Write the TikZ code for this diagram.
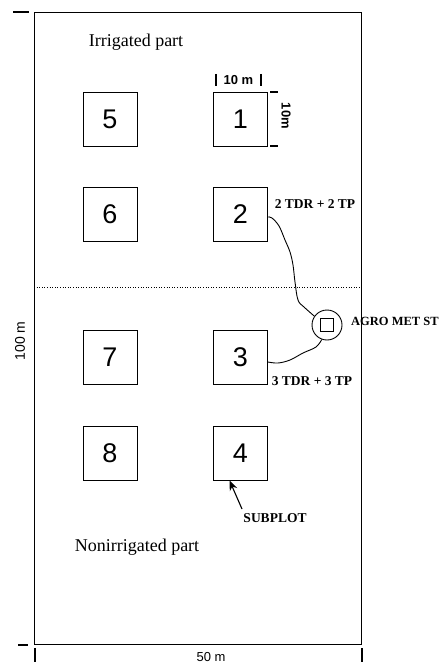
\documentclass[tikz,border=0pt]{standalone}
\usepackage{fontspec}
\setmainfont{Liberation Serif}
\setsansfont{Liberation Sans}
\usetikzlibrary{arrows.meta}
\tikzset{
  plotbox/.style={draw, line width=0.9pt, minimum size=54pt, inner sep=0pt,
    font=\sffamily\fontsize{27}{27}\selectfont},
  partlabel/.style={font=\fontsize{18}{18}\selectfont, inner sep=0pt},
  boldlabel/.style={font=\bfseries\fontsize{13.5}{13.5}\selectfont, inner sep=0pt},
  dimlabel/.style={font=\sffamily\bfseries\fontsize{13}{13}\selectfont, inner sep=0pt},
  tick/.style={line width=2.2pt},
  wire/.style={line width=0.9pt}
}
\begin{document}
\begin{tikzpicture}[x=1pt,y=-1pt]
\useasboundingbox (0,0) rectangle (445,666);
% field
\draw[line width=0.9pt] (34,12.5) rectangle (361.5,644.5);
\draw[dotted, line width=0.6pt] (34,287) -- (361.5,287);
% dimension marks
\draw[tick] (13,12) -- (29,12);
\draw[tick] (18,645) -- (28,645);
\draw[tick] (35,648) -- (35,662);
\draw[tick] (362,648) -- (362,662);
\node[dimlabel, font=\sffamily\fontsize{14}{14}\selectfont] (hundred) at (20,341) [rotate=90] {100 m};
\node[dimlabel, font=\sffamily\fontsize{13}{13}\selectfont] (fifty) at (211,657.5) {50 m};
% labels
\node[partlabel] (irr) at (136,42) {Irrigated part};
\node[partlabel] (nonirr) at (137,547) {Nonirrigated part};
% subplots
\node[plotbox] (b5) at (110,119) {5};
\node[plotbox] (b1) at (240.5,119) {1};
\node[plotbox] (b6) at (110,214) {6};
\node[plotbox] (b2) at (240.5,214) {2};
\node[plotbox] (b7) at (110,357) {7};
\node[plotbox] (b3) at (240.5,357) {3};
\node[plotbox] (b8) at (110,453) {8};
\node[plotbox] (b4) at (240.5,453) {4};
% 10 m marks
\node[dimlabel] (tenh) at (238.5,80) {10 m};
\draw[line width=1.4pt] (216,74) -- (216,86);
\draw[line width=1.4pt] (261,74) -- (261,86);
\draw[tick] (270,92) -- (278,92);
\draw[tick] (270,146) -- (278,146);
\node[dimlabel] (tenv) at (286,116) [rotate=-90] {10m};
% station
\node[draw, circle, line width=0.9pt, minimum size=30pt, inner sep=0pt] (st) at (327,325) {};
\node[draw, line width=0.8pt, minimum size=13pt, inner sep=0pt] (stbox) at (327,325) {};
\node[boldlabel, font=\bfseries\fontsize{12.5}{12.5}\selectfont, anchor=west] (stlabel) at (351,321) {AGRO MET ST};
% wires
\draw[wire] plot[smooth, tension=0.6] coordinates {([yshift=-3pt]b2.east) (272,218) (279,226) (285,240) (290,252) (293,265) (295,282) (298,300) (304,307) (st.145)};
\draw[wire] plot[smooth, tension=0.6] coordinates {([yshift=-5pt]b3.east) (278,363) (290,360) (303,353) (316,347) (st.250)};
\node[boldlabel] (tdr2) at (315,204) {2 TDR + 2 TP};
\node[boldlabel] (tdr3) at (312,381) {3 TDR + 3 TP};
% subplot pointer
\node[boldlabel] (sub) at (275,518) {SUBPLOT};
\coordinate (tail) at (242,509);
\draw[line width=1.1pt, -{Stealth[length=10pt,width=8pt]}] (tail) -- ([xshift=-11pt]b4.south);
\end{tikzpicture}
\end{document}
